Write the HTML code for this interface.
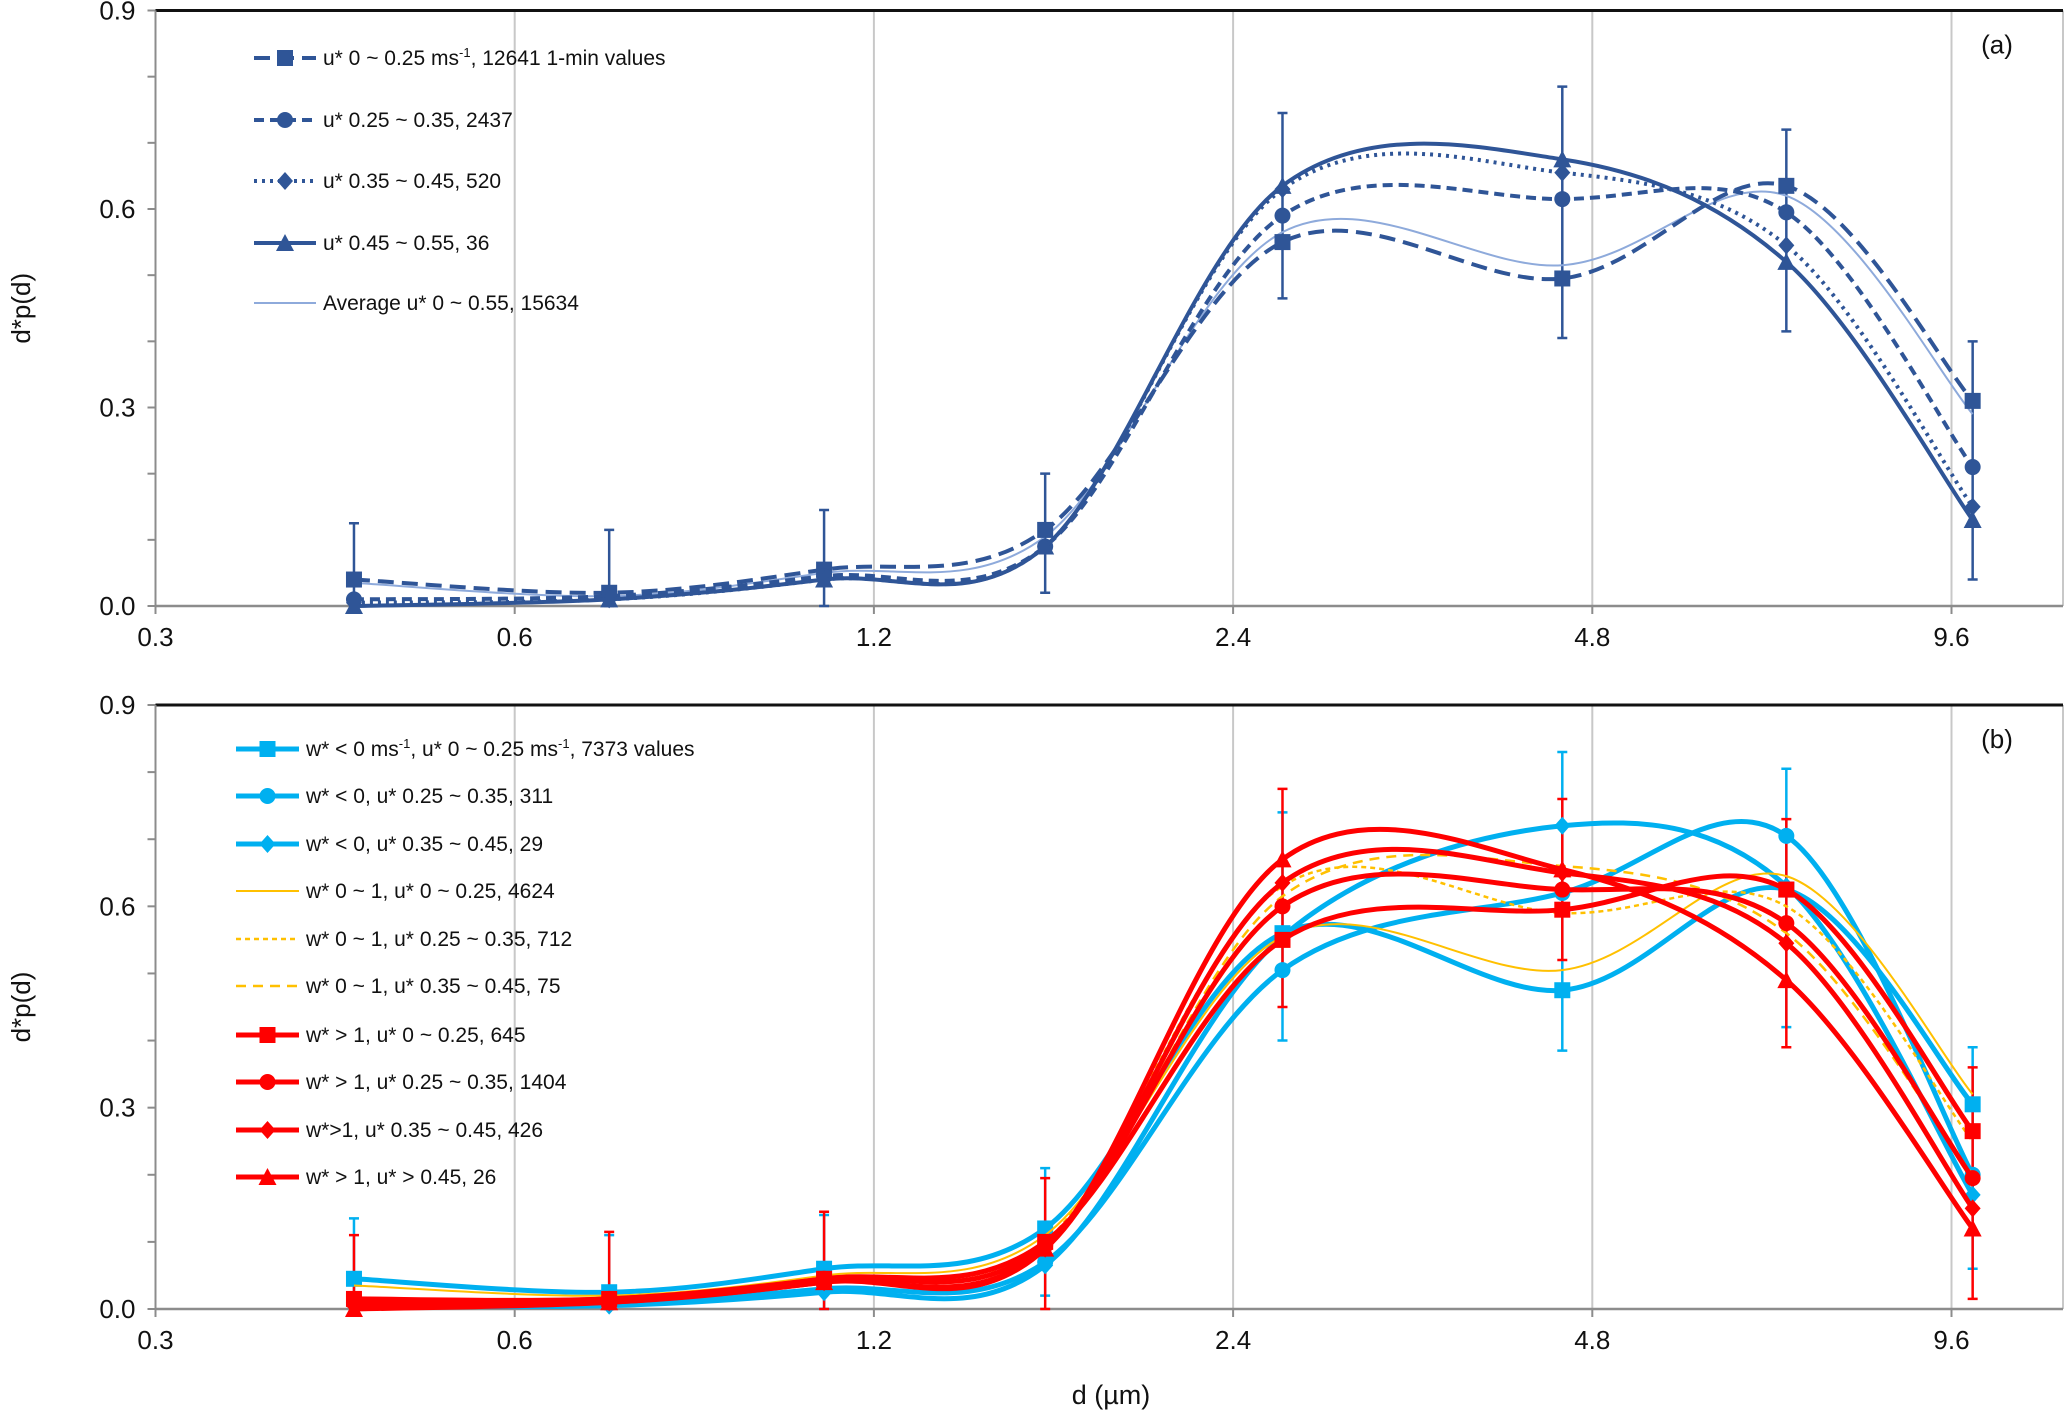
<!DOCTYPE html>
<html><head><meta charset="utf-8"><style>
html,body{margin:0;padding:0;background:#fff;}
svg{display:block;font-family:"Liberation Sans Narrow","Liberation Sans",sans-serif;}
</style></head><body>
<svg id="chart" width="2067" height="1413" viewBox="0 0 2067 1413" xmlns="http://www.w3.org/2000/svg"></svg>
<script>
// ---- data ----
const diameters = [0.44, 0.72, 1.09, 1.67, 2.64, 4.53, 6.98, 10.0];
const xTickLabels = ["0.3", "0.6", "1.2", "2.4", "4.8", "9.6"];
const xTickValues = [0.3, 0.6, 1.2, 2.4, 4.8, 9.6];
const yTickValues = [0.0, 0.3, 0.6, 0.9];
const yTickLabels = ["0.0", "0.3", "0.6", "0.9"];

// panel (a)
const aSeries1 = [0.04, 0.02, 0.055, 0.115, 0.55, 0.495, 0.635, 0.31];
const aSeries2 = [0.01, 0.015, 0.045, 0.09, 0.59, 0.615, 0.595, 0.21];
const aSeries3 = [0.005, 0.01, 0.04, 0.09, 0.63, 0.655, 0.545, 0.15];
const aSeries4 = [0.0, 0.01, 0.04, 0.09, 0.635, 0.675, 0.52, 0.13];
const aAverage = [0.035, 0.015, 0.05, 0.105, 0.565, 0.515, 0.62, 0.29];
const aErrHi = [0.125, 0.115, 0.145, 0.2, 0.745, 0.785, 0.72, 0.4];
const aErrLo = [0.0, 0.0, 0.0, 0.02, 0.465, 0.405, 0.415, 0.04];

// panel (b)
const bBlueSq = [0.045, 0.025, 0.06, 0.12, 0.56, 0.475, 0.625, 0.305];
const bBlueCi = [0.01, 0.01, 0.03, 0.07, 0.505, 0.62, 0.705, 0.2];
const bBlueDi = [0.005, 0.005, 0.025, 0.065, 0.555, 0.72, 0.63, 0.17];
const bYel1 = [0.035, 0.02, 0.05, 0.11, 0.555, 0.505, 0.645, 0.32];
const bYel2 = [0.015, 0.015, 0.045, 0.1, 0.63, 0.59, 0.6, 0.25];
const bYel3 = [0.01, 0.01, 0.04, 0.09, 0.615, 0.66, 0.56, 0.2];
const bRedSq = [0.015, 0.015, 0.045, 0.1, 0.55, 0.595, 0.625, 0.265];
const bRedCi = [0.01, 0.015, 0.045, 0.095, 0.6, 0.625, 0.575, 0.195];
const bRedDi = [0.005, 0.01, 0.04, 0.09, 0.635, 0.65, 0.545, 0.15];
const bRedTr = [0.0, 0.01, 0.04, 0.09, 0.67, 0.655, 0.49, 0.12];
const bBlueErrHi = [0.135, 0.11, 0.14, 0.21, 0.74, 0.83, 0.805, 0.39];
const bBlueErrLo = [0.0, 0.0, 0.0, 0.02, 0.4, 0.385, 0.42, 0.06];
const bRedErrHi = [0.11, 0.115, 0.145, 0.195, 0.775, 0.76, 0.73, 0.36];
const bRedErrLo = [0.0, 0.0, 0.0, 0.0, 0.45, 0.52, 0.39, 0.015];

// ---- drawing ----
const NS = "http://www.w3.org/2000/svg";
const svg = document.getElementById("chart");
function mk(tag, attrs, parent) {
  const e = document.createElementNS(NS, tag);
  for (const k in attrs) e.setAttribute(k, attrs[k]);
  (parent || svg).appendChild(e);
  return e;
}
const X0 = 155.5, DOUBLING = 359.2, XR = 2063;
function xs(v) { return X0 + Math.log2(v / 0.3) * DOUBLING; }
function makeY(top, bottom) { return v => bottom - (v / 0.9) * (bottom - top); }

function smoothPath(pts) {
  let d = "M" + pts[0][0] + "," + pts[0][1];
  for (let i = 0; i < pts.length - 1; i++) {
    const p0 = pts[i - 1] || pts[i], p1 = pts[i], p2 = pts[i + 1], p3 = pts[i + 2] || pts[i + 1];
    const c1x = p1[0] + (p2[0] - p0[0]) / 6, c1y = p1[1] + (p2[1] - p0[1]) / 6;
    const c2x = p2[0] - (p3[0] - p1[0]) / 6, c2y = p2[1] - (p3[1] - p1[1]) / 6;
    d += " C" + c1x + "," + c1y + " " + c2x + "," + c2y + " " + p2[0] + "," + p2[1];
  }
  return d;
}
function marker(g, type, x, y, color, s) {
  let el;
  if (type === "square") el = mk("rect", {x: x - s / 2, y: y - s / 2, width: s, height: s, fill: color}, g);
  else if (type === "circle") el = mk("circle", {cx: x, cy: y, r: s / 2, fill: color}, g);
  else if (type === "diamond") el = mk("polygon", {points: `${x},${y - s / 2 - 1} ${x + s / 2},${y} ${x},${y + s / 2 + 1} ${x - s / 2},${y}`, fill: color}, g);
  else if (type === "triangle") el = mk("polygon", {points: `${x},${y - s / 2 - 1} ${x + s / 2 + 1},${y + s / 2} ${x - s / 2 - 1},${y + s / 2}`, fill: color}, g);
  if (el) {
    
    
  }
}
function errorBars(g, hi, lo, color, y) {
  diameters.forEach((d, i) => {
    const x = xs(d), yh = y(hi[i]), yl = y(lo[i]);
    const l = mk("path", {d: `M${x},${yh}V${yl}M${x - 5},${yh}H${x + 5}M${x - 5},${yl}H${x + 5}`, stroke: color, "stroke-width": 2.5, fill: "none"}, g);
    
    
  });
}
function series(g, vals, y, opt, name) {
  const pts = diameters.map((d, i) => [xs(d), y(vals[i])]);
  const p = mk("path", {d: smoothPath(pts), stroke: opt.color, "stroke-width": opt.w, fill: "none", "stroke-dasharray": opt.dash || "none"}, g);
  
  
  if (opt.marker) pts.forEach(q => marker(g, opt.marker, q[0], q[1], opt.color, opt.ms || 16));
}
function legendEntry(g, x, y, opt, label) {
  const lg = mk("g", {}, g);
  
  
  mk("line", {x1: x, y1: y, x2: x + opt.len, y2: y, stroke: opt.color, "stroke-width": opt.w, "stroke-dasharray": opt.dash || "none"}, lg);
  if (opt.marker) marker(lg, opt.marker, x + opt.len / 2, y, opt.color, opt.ms || 16);
  const t = mk("text", {x: x + opt.len + 7, y: y + 7, "font-size": 21, fill: "#111"}, lg);
  t.innerHTML = label;
}
function axes(name, top, bottom, tag) {
  const g = mk("g", {});
  
  
  const y = makeY(top, bottom);
  xTickValues.slice(1).forEach(v => mk("line", {x1: xs(v), y1: top, x2: xs(v), y2: bottom, stroke: "#c8c8c8", "stroke-width": 2}, g));
  mk("line", {x1: XR, y1: top, x2: XR, y2: bottom, stroke: "#c8c8c8", "stroke-width": 2}, g);
  mk("line", {x1: X0, y1: top, x2: XR, y2: top, stroke: "#111", "stroke-width": 3}, g);
  mk("line", {x1: X0, y1: top, x2: X0, y2: bottom + 8, stroke: "#8c8c8c", "stroke-width": 2}, g);
  mk("line", {x1: X0, y1: bottom, x2: XR, y2: bottom, stroke: "#8c8c8c", "stroke-width": 2.5}, g);
  for (let k = 0; k <= 9; k++) {
    const yy = y(k * 0.1);
    mk("line", {x1: X0 - 8, y1: yy, x2: X0, y2: yy, stroke: "#8c8c8c", "stroke-width": 2}, g);
  }
  yTickValues.forEach((v, i) => {
    const t = mk("text", {x: X0 - 20, y: y(v) + 9, "text-anchor": "end", "font-size": 26, fill: "#111"}, g);
    
    
    t.textContent = yTickLabels[i];
  });
  xTickValues.forEach((v, i) => {
    mk("line", {x1: xs(v), y1: bottom, x2: xs(v), y2: bottom + 8, stroke: "#8c8c8c", "stroke-width": 2}, g);
    const t = mk("text", {x: xs(v), y: bottom + 40, "text-anchor": "middle", "font-size": 26, fill: "#111"}, g);
    
    
    t.textContent = xTickLabels[i];
  });
  const yt = mk("text", {x: 0, y: 0, transform: `translate(30,${(top + bottom) / 2}) rotate(-90)`, "text-anchor": "middle", "font-size": 26, fill: "#111"}, g);
  
  
  yt.textContent = "d*p(d)";
  const pt = mk("text", {x: 1997, y: top + 43, "text-anchor": "middle", "font-size": 26, fill: "#111"}, g);
  
  
  pt.textContent = tag;
  return {g, y};
}

// Panel (a)
const A = axes("panel-a", 10.5, 606, "(a)");
const DB = "#2f5597", LB = "#8eaadb";
errorBars(A.g, aErrHi, aErrLo, DB, A.y);
series(A.g, aAverage, A.y, {color: LB, w: 2}, "average");
series(A.g, aSeries1, A.y, {color: DB, w: 4, dash: "16 8", marker: "square"}, "u-0-0.25");
series(A.g, aSeries2, A.y, {color: DB, w: 4, dash: "10 6", marker: "circle"}, "u-0.25-0.35");
series(A.g, aSeries3, A.y, {color: DB, w: 4, dash: "3 5", marker: "diamond"}, "u-0.35-0.45");
series(A.g, aSeries4, A.y, {color: DB, w: 4, marker: "triangle"}, "u-0.45-0.55");
const LA = mk("g", {});


legendEntry(LA, 254, 58, {color: DB, w: 4, dash: "16 8", marker: "square", len: 62}, "u* 0 ~ 0.25 ms<tspan font-size='13' dy='-8'>-1</tspan><tspan dy='8'>, 12641 1-min values</tspan>");
legendEntry(LA, 254, 120, {color: DB, w: 4, dash: "10 6", marker: "circle", len: 62}, "u* 0.25 ~ 0.35, 2437");
legendEntry(LA, 254, 181, {color: DB, w: 4, dash: "3 5", marker: "diamond", len: 62}, "u* 0.35 ~ 0.45, 520");
legendEntry(LA, 254, 243, {color: DB, w: 4, marker: "triangle", len: 62}, "u* 0.45 ~ 0.55, 36");
legendEntry(LA, 254, 303, {color: LB, w: 2, len: 62}, "Average u* 0 ~ 0.55, 15634");

// Panel (b)
const B = axes("panel-b", 705, 1309, "(b)");
const CY = "#00b0f0", YE = "#ffc000", RD = "#ff0000";
errorBars(B.g, bBlueErrHi, bBlueErrLo, CY, B.y);
errorBars(B.g, bRedErrHi, bRedErrLo, RD, B.y);
series(B.g, bBlueSq, B.y, {color: CY, w: 5, marker: "square"}, "blue-u-0-0.25");
series(B.g, bBlueCi, B.y, {color: CY, w: 5, marker: "circle"}, "blue-u-0.25-0.35");
series(B.g, bBlueDi, B.y, {color: CY, w: 5, marker: "diamond"}, "blue-u-0.35-0.45");
series(B.g, bYel1, B.y, {color: YE, w: 2}, "yellow-u-0-0.25");
series(B.g, bYel2, B.y, {color: YE, w: 2.5, dash: "5 4"}, "yellow-u-0.25-0.35");
series(B.g, bYel3, B.y, {color: YE, w: 2.5, dash: "10 7"}, "yellow-u-0.35-0.45");
series(B.g, bRedSq, B.y, {color: RD, w: 5, marker: "square"}, "red-u-0-0.25");
series(B.g, bRedCi, B.y, {color: RD, w: 5, marker: "circle"}, "red-u-0.25-0.35");
series(B.g, bRedDi, B.y, {color: RD, w: 5, marker: "diamond"}, "red-u-0.35-0.45");
series(B.g, bRedTr, B.y, {color: RD, w: 5, marker: "triangle"}, "red-u-0.45");
const LBg = mk("g", {});


const sup = "<tspan font-size='13' dy='-8'>-1</tspan><tspan dy='8'>";
legendEntry(LBg, 236, 749, {color: CY, w: 5, marker: "square", len: 63}, "w* &lt; 0 ms" + sup + ", u* 0 ~ 0.25 ms</tspan>" + sup + ", 7373 values</tspan>");
legendEntry(LBg, 236, 796, {color: CY, w: 5, marker: "circle", len: 63}, "w* &lt; 0, u* 0.25 ~ 0.35, 311");
legendEntry(LBg, 236, 844, {color: CY, w: 5, marker: "diamond", len: 63}, "w* &lt; 0, u* 0.35 ~ 0.45, 29");
legendEntry(LBg, 236, 891, {color: YE, w: 2, len: 63}, "w* 0 ~ 1, u* 0 ~ 0.25, 4624");
legendEntry(LBg, 236, 939, {color: YE, w: 2.5, dash: "5 4", len: 63}, "w* 0 ~ 1, u* 0.25 ~ 0.35, 712");
legendEntry(LBg, 236, 986, {color: YE, w: 2.5, dash: "10 7", len: 63}, "w* 0 ~ 1, u* 0.35 ~ 0.45, 75");
legendEntry(LBg, 236, 1035, {color: RD, w: 5, marker: "square", len: 63}, "w* &gt; 1, u* 0 ~ 0.25, 645");
legendEntry(LBg, 236, 1082, {color: RD, w: 5, marker: "circle", len: 63}, "w* &gt; 1, u* 0.25 ~ 0.35, 1404");
legendEntry(LBg, 236, 1130, {color: RD, w: 5, marker: "diamond", len: 63}, "w*&gt;1, u* 0.35 ~ 0.45, 426");
legendEntry(LBg, 236, 1177, {color: RD, w: 5, marker: "triangle", len: 63}, "w* &gt; 1, u* &gt; 0.45, 26");

const xt = mk("text", {x: 1111, y: 1404, "text-anchor": "middle", "font-size": 27, fill: "#111"});


xt.textContent = "d (µm)";
</script>
</body></html>
